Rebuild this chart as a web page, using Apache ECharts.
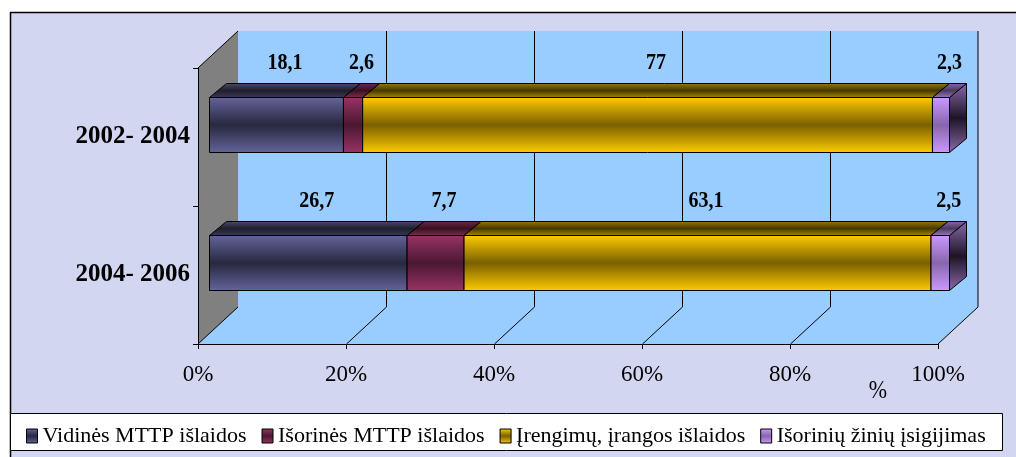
<!DOCTYPE html>
<html>
<head>
<meta charset="utf-8">
<style>
  html, body { margin: 0; padding: 0; background: #ffffff; }
  #chart { width: 1016px; height: 457px; }
</style>
<script src="https://cdn.jsdelivr.net/npm/echarts@6/dist/echarts.min.js"></script>
</head>
<body>
<div id="chart"></div>
<script>
// Periods (top to bottom) and the share of each cost type, in %
const periods = ['2002- 2004', '2004- 2006'];
const seriesNames = [
  'Vidinės MTTP išlaidos',
  'Išorinės MTTP išlaidos',
  'Įrengimų, įrangos išlaidos',
  'Išorinių žinių įsigijimas'
];
const vidines = [18.1, 26.7];
const isorines = [2.6, 7.7];
const irengimu = [77, 63.1];
const zinios = [2.3, 2.5];
const axisTicks = [0, 20, 40, 60, 80, 100];

const seriesValues = [vidines, isorines, irengimu, zinios];

// Colours: [front edge, front middle, top back, top middle, top front, side dark]
const palettes = [
  ['#64649c', '#28283e', '#4c4c6c', '#1e1e2c', '#3a3a56', '#1a1a26'],
  ['#993366', '#4a1830', '#6a2a4a', '#3a1020', '#7a3050', '#2a0a18'],
  ['#ffcc00', '#7a6000', '#9a7c00', '#463800', '#a88a00', '#3a2e00'],
  ['#cc99ff', '#8866aa', '#8a6aaa', '#4a3a60', '#9a7aba', '#1e1424']
];

// 3D geometry (pixels)
const DEPTH_X = 40, DEPTH_Y = -37;       // floor / wall depth
const BAR_SHIFT_X = 11.5, BAR_LIFT = 12; // bar set back into the depth
const BAR_HALF = 27.5;                   // half height of the front face
const BAR_DX = 17, BAR_DY = -14;         // bar thickness
const WALL = '#99ccff';
const SIDE = '#808080';
const SERIF = '"Liberation Serif", "Times New Roman", serif';

function vGrad(stops) {
  return new echarts.graphic.LinearGradient(0, 0, 0, 1,
    stops.map(function (c, i) { return { offset: i / (stops.length - 1), color: c }; }));
}

function fmt(v) { return String(v).replace('.', ','); }

function renderWalls(params, api) {
  const cs = params.coordSys;
  const x0 = cs.x, x1 = cs.x + cs.width, yT = cs.y, yB = cs.y + cs.height;
  const line = { stroke: '#000', lineWidth: 1 };
  const kids = [
    { type: 'rect', shape: { x: x0 + DEPTH_X, y: yT + DEPTH_Y, width: cs.width, height: cs.height }, style: { fill: WALL } },
    { type: 'polygon', shape: { points: [[x0, yB], [x1, yB], [x1 + DEPTH_X, yB + DEPTH_Y], [x0 + DEPTH_X, yB + DEPTH_Y]] }, style: { fill: WALL } },
    { type: 'polygon', shape: { points: [[x0, yT], [x0 + DEPTH_X, yT + DEPTH_Y], [x0 + DEPTH_X, yB + DEPTH_Y], [x0, yB]] }, style: { fill: SIDE } },
    { type: 'line', shape: { x1: x0, y1: yT, x2: x0 + DEPTH_X, y2: yT + DEPTH_Y }, style: line },
    { type: 'line', shape: { x1: x0, y1: yB, x2: x0 + DEPTH_X, y2: yB + DEPTH_Y }, style: line },
    { type: 'line', shape: { x1: x1 + DEPTH_X, y1: yT + DEPTH_Y, x2: x1 + DEPTH_X, y2: yB + DEPTH_Y }, style: line },
    { type: 'line', shape: { x1: x1, y1: yB, x2: x1 + DEPTH_X, y2: yB + DEPTH_Y }, style: line }
  ];
  axisTicks.slice(1, -1).forEach(function (v) {
    const px = Math.round(api.coord([v, 0])[0]) + 0.5;
    kids.push({ type: 'line', shape: { x1: px + DEPTH_X, y1: yT + DEPTH_Y, x2: px + DEPTH_X, y2: yB + DEPTH_Y }, style: line });
    kids.push({ type: 'line', shape: { x1: px, y1: yB, x2: px + DEPTH_X, y2: yB + DEPTH_Y }, style: line });
  });
  return { type: 'group', children: kids, silent: true };
}

function makeBarRenderer(si) {
  const pal = palettes[si];
  const frontFill = vGrad([pal[0], pal[1], pal[0]]);
  const topFill = vGrad([pal[2], pal[3], pal[4]]);
  const sideFill = vGrad([pal[2], pal[5], pal[2]]);
  return function (params, api) {
    const cat = api.value(1), start = api.value(2), val = api.value(3);
    const pS = api.coord([start, cat]);
    const pE = api.coord([start + val, cat]);
    const xs = pS[0] + BAR_SHIFT_X, xe = pE[0] + BAR_SHIFT_X;
    const yc = pS[1] - BAR_LIFT;
    const yt = yc - BAR_HALF, yb = yc + BAR_HALF;
    const edge = { stroke: '#000', lineWidth: 1 };
    const lx = (xs + xe) / 2 + BAR_DX / 2, ly = yt + BAR_DY - 20;
    return {
      type: 'group',
      children: [
        { type: 'polygon', shape: { points: [[xe, yt], [xe + BAR_DX, yt + BAR_DY], [xe + BAR_DX, yb + BAR_DY], [xe, yb]] },
          style: Object.assign({ fill: sideFill }, edge) },
        { type: 'polygon', shape: { points: [[xs, yt], [xe, yt], [xe + BAR_DX, yt + BAR_DY], [xs + BAR_DX, yt + BAR_DY]] },
          style: Object.assign({ fill: topFill }, edge) },
        { type: 'rect', shape: { x: xs, y: yt, width: xe - xs, height: yb - yt },
          style: Object.assign({ fill: frontFill }, edge) },
        { type: 'text', z2: 50, x: lx, y: ly, scaleY: 1.15,
          style: { text: fmt(val), x: 0, y: 0,
                   align: 'center', verticalAlign: 'middle',
                   font: 'bold 20px ' + SERIF, fill: '#000' } }
      ]
    };
  };
}

const barSeries = seriesNames.map(function (name, si) {
  const data = periods.map(function (p, ci) {
    let start = 0;
    for (let k = 0; k < si; k++) start += seriesValues[k][ci];
    const v = seriesValues[si][ci];
    return [start + v, ci, start, v];
  });
  const pal = palettes[si];
  return {
    type: 'custom',
    name: name,
    renderItem: makeBarRenderer(si),
    encode: { x: [0, 2], y: 1 },
    itemStyle: { color: vGrad([pal[0], pal[1], pal[0]]), borderColor: '#000', borderWidth: 1 },
    data: data,
    z: 5
  };
});

const chart = echarts.init(document.getElementById('chart'), null, { renderer: 'canvas' });

chart.setOption({
  animation: false,
  backgroundColor: '#ffffff',
  graphic: [
    { type: 'rect', shape: { x: 10, y: 12, width: 1006, height: 445 }, style: { fill: '#d3d6f0' }, z: -10 },
    { type: 'line', shape: { x1: 10, y1: 12.5, x2: 1016, y2: 12.5 }, style: { stroke: '#000', lineWidth: 1.5 }, z: -9 },
    { type: 'line', shape: { x1: 10.5, y1: 12, x2: 10.5, y2: 457 }, style: { stroke: '#000', lineWidth: 1.5 }, z: -9 },
    { type: 'rect', shape: { x: 10.5, y: 413.5, width: 992, height: 37 }, style: { fill: '#ffffff', stroke: '#000', lineWidth: 1 }, z: -8 },
    { type: 'text', x: 878, y: 391, scaleY: 1.15, style: { text: '%', x: 0, y: 0, align: 'center', verticalAlign: 'middle', font: '22px ' + SERIF, fill: '#000' }, z: 10 }
  ],
  grid: { left: 198, right: 78, top: 68, bottom: 113, containLabel: false },
  legend: {
    data: seriesNames,
    left: 21, top: 420,
    icon: 'rect',
    itemWidth: 11, itemHeight: 14,
    itemGap: 15,
    textStyle: { fontFamily: SERIF, fontSize: 22, color: '#000' },
    itemStyle: { borderColor: '#000', borderWidth: 1 }
  },
  xAxis: {
    type: 'value', min: 0, max: 100, interval: 20,
    z: 10,
    axisLine: { show: true, lineStyle: { color: '#000', width: 1 } },
    axisTick: { show: true, length: 5, lineStyle: { color: '#000' } },
    splitLine: { show: false },
    axisLabel: { formatter: '{value}%', fontFamily: SERIF, fontSize: 23, color: '#000', margin: 19 }
  },
  yAxis: {
    type: 'category', data: periods, inverse: true,
    z: 10,
    axisLine: { show: true, lineStyle: { color: '#000', width: 1 } },
    axisTick: { show: true, length: 5, lineStyle: { color: '#000' } },
    axisLabel: { fontFamily: SERIF, fontSize: 25, fontWeight: 'bold', color: '#000', margin: 8 },
    splitLine: { show: false }
  },
  series: [{
    type: 'custom',
    name: 'walls',
    renderItem: renderWalls,
    encode: { x: 0, y: 1 },
    data: [[0, 0]],
    silent: true,
    z: 1
  }].concat(barSeries)
});
</script>
</body>
</html>
